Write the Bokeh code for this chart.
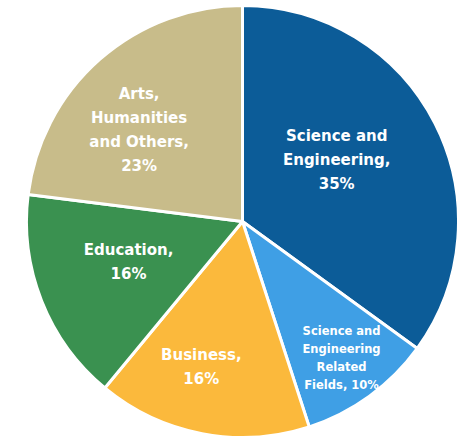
import math
from bokeh.plotting import figure
from bokeh.models import ColumnDataSource, Range1d
from bokeh.core.properties import value
from bokeh.embed import file_html
from bokeh.resources import INLINE

categories = ["Science and Engineering", "Science and Engineering Related Fields",
              "Business", "Education", "Arts, Humanities and Others"]
shares = [35, 10, 16, 16, 23]
labels = ["Science and\nEngineering,\n35%",
          "Science and\nEngineering\nRelated\nFields, 10%",
          "Business,\n16%",
          "Education,\n16%",
          "Arts,\nHumanities\nand Others,\n23%"]
colors = ["#0C5C98", "#3F9FE5", "#FBB93C", "#3A9150", "#C8BC8A"]

# layout (styling, not data)
W, H = 463, 439
cx, cy, R = 242, 439 - 221, 216
label_frac = [0.52, 0.78, 0.70, 0.56, 0.64]
label_nudge = [6, 0, -5, -2, 7]  # degrees
font_sizes = ["15px", "11.5px", "15px", "15px", "15px"]
line_heights = [1.33, 1.3, 1.38, 1.38, 1.33]

total = sum(shares)
starts, ends = [], []
acc = 0.0
for s in shares:
    a0 = math.pi / 2 - 2 * math.pi * acc / total
    acc += s
    a1 = math.pi / 2 - 2 * math.pi * acc / total
    starts.append(a0)
    ends.append(a1)

src = ColumnDataSource(dict(cat=categories, start=starts, end=ends, color=colors,
                            x=[cx] * 5, y=[cy] * 5))

p = figure(width=W, height=H, output_backend="svg", toolbar_location=None,
           x_range=Range1d(0, W), y_range=Range1d(0, H), min_border=0,
           match_aspect=False)
p.axis.visible = False
p.grid.visible = False
p.outline_line_color = None
p.background_fill_color = "white"

p.wedge(x="x", y="y", radius=R, start_angle="end", end_angle="start",
        fill_color="color", line_color="white", line_width=3, source=src)

for i in range(5):
    mid = (starts[i] + ends[i]) / 2 + math.radians(label_nudge[i])
    lx = cx + R * label_frac[i] * math.cos(mid)
    ly = cy + R * label_frac[i] * math.sin(mid)
    p.text(x=[lx], y=[ly], text=[labels[i]], text_align="center",
           text_baseline="middle", text_color="white",
           text_font=value("DejaVu Sans"), text_font_style="bold",
           text_font_size=font_sizes[i], text_line_height=line_heights[i])

open("out.html", "w").write(file_html(p, INLINE))
